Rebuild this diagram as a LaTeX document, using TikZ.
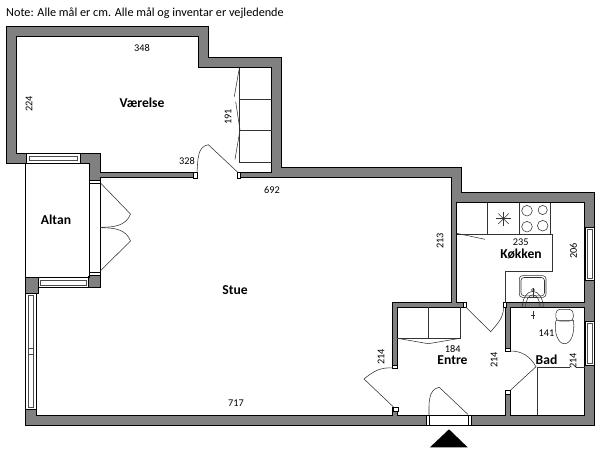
\documentclass[tikz,border=0pt]{standalone}
\usepackage{fontspec}
\setmainfont{Carlito}
\usetikzlibrary{positioning}
\definecolor{wallgray}{RGB}{128,128,128}
\begin{document}
\begin{tikzpicture}[x=1pt,y=-1pt]
    \tikzstyle{wall}=[fill=wallgray, draw=black, line width=0.9pt, line join=miter]
    \tikzstyle{room}=[fill=white, draw=black, line width=0.9pt]
    \tikzstyle{gap}=[fill=white, draw=none]
    \tikzstyle{frame}=[fill=white, draw=black, line width=0.7pt]
    \tikzstyle{glass}=[fill=white, draw=black!70, line width=0.7pt]
    \tikzstyle{furn}=[draw=black!80, line width=0.55pt]
    \tikzstyle{leaf}=[draw=black!80, line width=0.55pt]
    \tikzstyle{dim}=[font=\fontsize{10.3}{12}\selectfont, inner sep=0pt]
    \tikzstyle{roomname}=[font=\bfseries\fontsize{13.6}{15}\selectfont, inner sep=0pt]

\useasboundingbox (0,0) rectangle (600,451);

% walls
\draw[wall] (6.5,26) -- (208.5,26) -- (208.5,57.5) -- (281.5,57.5) -- (281.5,167.5) -- (461.5,167.5)
    -- (461.5,192.5) -- (594.5,192.5) -- (594.5,425) -- (25.7,425) -- (25.7,277) -- (89.3,277)
    -- (89.3,163.5) -- (6.5,163.5) -- cycle;
\draw[line width=0.9pt] (25.7,163.5) -- (25.7,277);

% rooms
\draw[room] (16.5,36.5) -- (198.5,36.5) -- (198.5,67.5) -- (271.5,67.5) -- (271.5,172.5) -- (100,172.5)
    -- (100,153.3) -- (16.5,153.3) -- cycle;
\draw[room] (100,177.7) -- (451.5,177.7) -- (451.5,302.7) -- (392.3,302.7) -- (392.3,415) -- (36,415)
    -- (36,293) -- (38.5,293) -- (38.5,287.5) -- (100,287.5) -- cycle;
\draw[room] (456.7,202.7) -- (584.7,202.7) -- (584.7,302.7) -- (456.7,302.7) -- cycle;
\draw[room] (397.3,307.3) -- (505.7,307.3) -- (505.7,415) -- (397.3,415) -- cycle;
\draw[room] (510.7,307.3) -- (584.7,307.3) -- (584.7,415) -- (510.7,415) -- cycle;

% door openings
\fill[gap] (197,171.5) rectangle (237,178.5);
\fill[gap] (466,302) rectangle (503,308);
\fill[gap] (391,368) rectangle (398,407);
\fill[gap] (505,351) rectangle (511.5,390);
\draw[frame] (193.7,172.5) rectangle (197,178);
\draw[frame] (237,172.5) rectangle (240,178);
\draw[frame] (463,302.7) rectangle (466,307.3);
\draw[frame] (503,302.7) rectangle (506,307.3);
\draw[frame] (392.3,365) rectangle (397.3,368);
\draw[frame] (393,407) rectangle (398,411);
\draw[frame] (505.7,348) rectangle (510.7,351);
\draw[frame] (505.7,390) rectangle (510.7,394);

% entrance
\draw[frame] (429,415) rectangle (468.5,425);
\draw[frame] (426,415) rectangle (429,425);
\draw[frame] (468.5,415) rectangle (471.7,425);
\fill[black] (449,429.3) -- (467.7,447.3) -- (430,447.3) -- cycle;

% altan
\draw[frame] (89.3,183) rectangle (100,272.5);
\draw[frame] (89.3,180.7) rectangle (100,183);
\draw[frame] (89.3,272.5) rectangle (100,275);
\draw[line width=0.9pt] (88,275.5) -- (88,277);

% windows
\draw[frame] (26.7,153.5) rectangle (80,163);
\draw[glass] (29.5,156.7) rectangle (77.5,160.5);
\draw[frame] (38.5,277.5) rectangle (88,287.5);
\draw[glass] (40.5,280) rectangle (86,285);
\draw[frame] (25.7,293) rectangle (36,409);
\draw[glass] (28.5,295) rectangle (33,407);
\draw[glass] (28.5,348) rectangle (33,354);
\draw[frame] (585,227.3) rectangle (594.5,280.7);
\draw[glass] (587.5,229.5) rectangle (592.5,278.5);
\draw[frame] (585,321.7) rectangle (594.5,365);
\draw[glass] (587.5,323.5) rectangle (592.5,363);

% closets
\draw[furn] (239.5,67.5) -- (239.5,162) -- (271.5,162);
\draw[furn] (239.5,99) -- (271.5,99);
\draw[furn] (239.5,130.3) -- (271.5,130.3);
\draw[furn] (239.3,68.3) -- (234.3,96.7);
\draw[furn] (235.7,101.7) -- (240,130);
\draw[furn] (240,130) -- (235,159.3);
\draw[furn] (397.3,338.3) -- (460,338.3) -- (460,307.3);
\draw[furn] (428.3,307.3) -- (428.3,338.3);
\draw[furn] (397.3,338.3) -- (428.3,343.7) -- (460,338.3);

% door leaves
\draw[leaf] (238,172.5) -- (208.3,144.7) to[out=190,in=85] (197,172.5);
\draw[leaf] (100.5,183) -- (130.5,214) to[out=-110,in=0] (100.5,227.3);
\draw[leaf] (100.5,227.7) to[out=0,in=110] (130.5,241) -- (100.5,270.7);
\draw[leaf] (466,307.3) -- (490.7,331.7) to[out=50,in=-90] (503.5,307.3);
\draw[leaf] (393.5,407) -- (364,379) to[out=40,in=175] (393,368);
\draw[leaf] (468,414.5) -- (439.3,387.3) to[out=190,in=90] (429,415);
\draw[leaf] (510.7,390) -- (536,366.7) to[out=120,in=0] (510.7,351);

% kitchen
\draw[furn] (487.7,202.7) -- (487.7,234);
\draw[furn] (519.3,202.7) -- (519.3,234);
\draw[furn] (550.7,202.7) -- (550.7,234);
\draw[furn] (456.7,234) -- (552.7,234) -- (552.7,271.7) -- (505.7,271.7) -- (505.7,302.7);
\draw[furn] (456.7,233.3) -- (485,239.3);
\draw[furn] (496,218.7) -- (511,218.7);
\draw[furn] (503.5,211.5) -- (503.5,226);
\draw[furn] (498.3,213.5) -- (508.7,223.9);
\draw[furn] (498.3,223.9) -- (508.7,213.5);
\draw[furn] (527,210.7) circle (5.3);
\draw[furn] (542.7,210) circle (4.6);
\draw[furn] (527,226.7) circle (5.3);
\draw[furn] (542.7,225.7) circle (5.3);
\draw[furn, rounded corners=3pt] (519.3,275.7) rectangle (546,297.3);
\draw[furn, rounded corners=3pt] (521,277.5) rectangle (544.5,295.8);
\draw[furn] (533,288) -- (533,297.3);
\draw[furn] (533,290) circle (1.5);
\draw[line width=1pt, black!80] (529,297.3) -- (538,297.3);

% bathroom
\draw[furn] (522.3,307.3) arc[start angle=180, end angle=360, x radius=10.5, y radius=16];
\draw[furn] (525.5,307.3) arc[start angle=180, end angle=360, x radius=7.3, y radius=12.5];
\draw[furn] (532.8,311) -- (532.8,319);
\draw[furn] (530.8,315) -- (534.8,315);
\draw[furn, rounded corners=4pt] (556,309.3) -- (573,309.3) -- (573.5,321) -- (555.7,321) -- cycle;
\draw[furn] (555.7,321) .. controls (554,333) and (558,343.7) .. (564.5,343.7) .. controls (571,343.7) and (575,333) .. (573.5,321);
\draw[line width=1.1pt, black!60] (555.7,320.5) -- (573.5,320.5);
\draw[furn] (537.3,415) -- (537.3,367.3) -- (584.7,367.3);

% labels
\node[anchor=west, inner sep=0pt, font=\fontsize{12.2}{14}\selectfont] (note) at (6,13) {Note: Alle mål er cm. Alle mål og inventar er vejledende};
\node[dim] (w1) at (142,48.5) {348};
\node[roomname] (vaerelse) at (142,103) {Værelse};
\node[dim, rotate=90] (h1) at (29,104) {224};
\node[dim, rotate=90] (h2) at (228,117) {191};
\node[dim] (w2) at (187,161.5) {328};
\node[dim] (w3) at (272,190) {692};
\node[roomname] (altan) at (56,220) {Altan};
\node[roomname] (stue) at (235,290) {Stue};
\node[dim] (w4) at (236,403) {717};
\node[dim, rotate=90] (h3) at (440,241) {213};
\node[dim] (w5) at (520.7,242.3) {235};
\node[roomname] (koekken) at (521,254) {Køkken};
\node[dim, rotate=90] (h4) at (573.5,251) {206};
\node[dim] (w6) at (546.5,333.3) {141};
\node[dim] (w7) at (452.7,349.3) {184};
\node[roomname] (entre) at (452.5,360) {Entre};
\node[dim, rotate=90] (h5) at (381,357) {214};
\node[dim, rotate=90] (h6) at (494,360) {214};
\node[roomname, fill=white, inner sep=0.5pt] (bad) at (546.5,360) {Bad};
\node[dim, rotate=90, fill=white] (h7) at (573,361) {214};
\end{tikzpicture}
\end{document}
